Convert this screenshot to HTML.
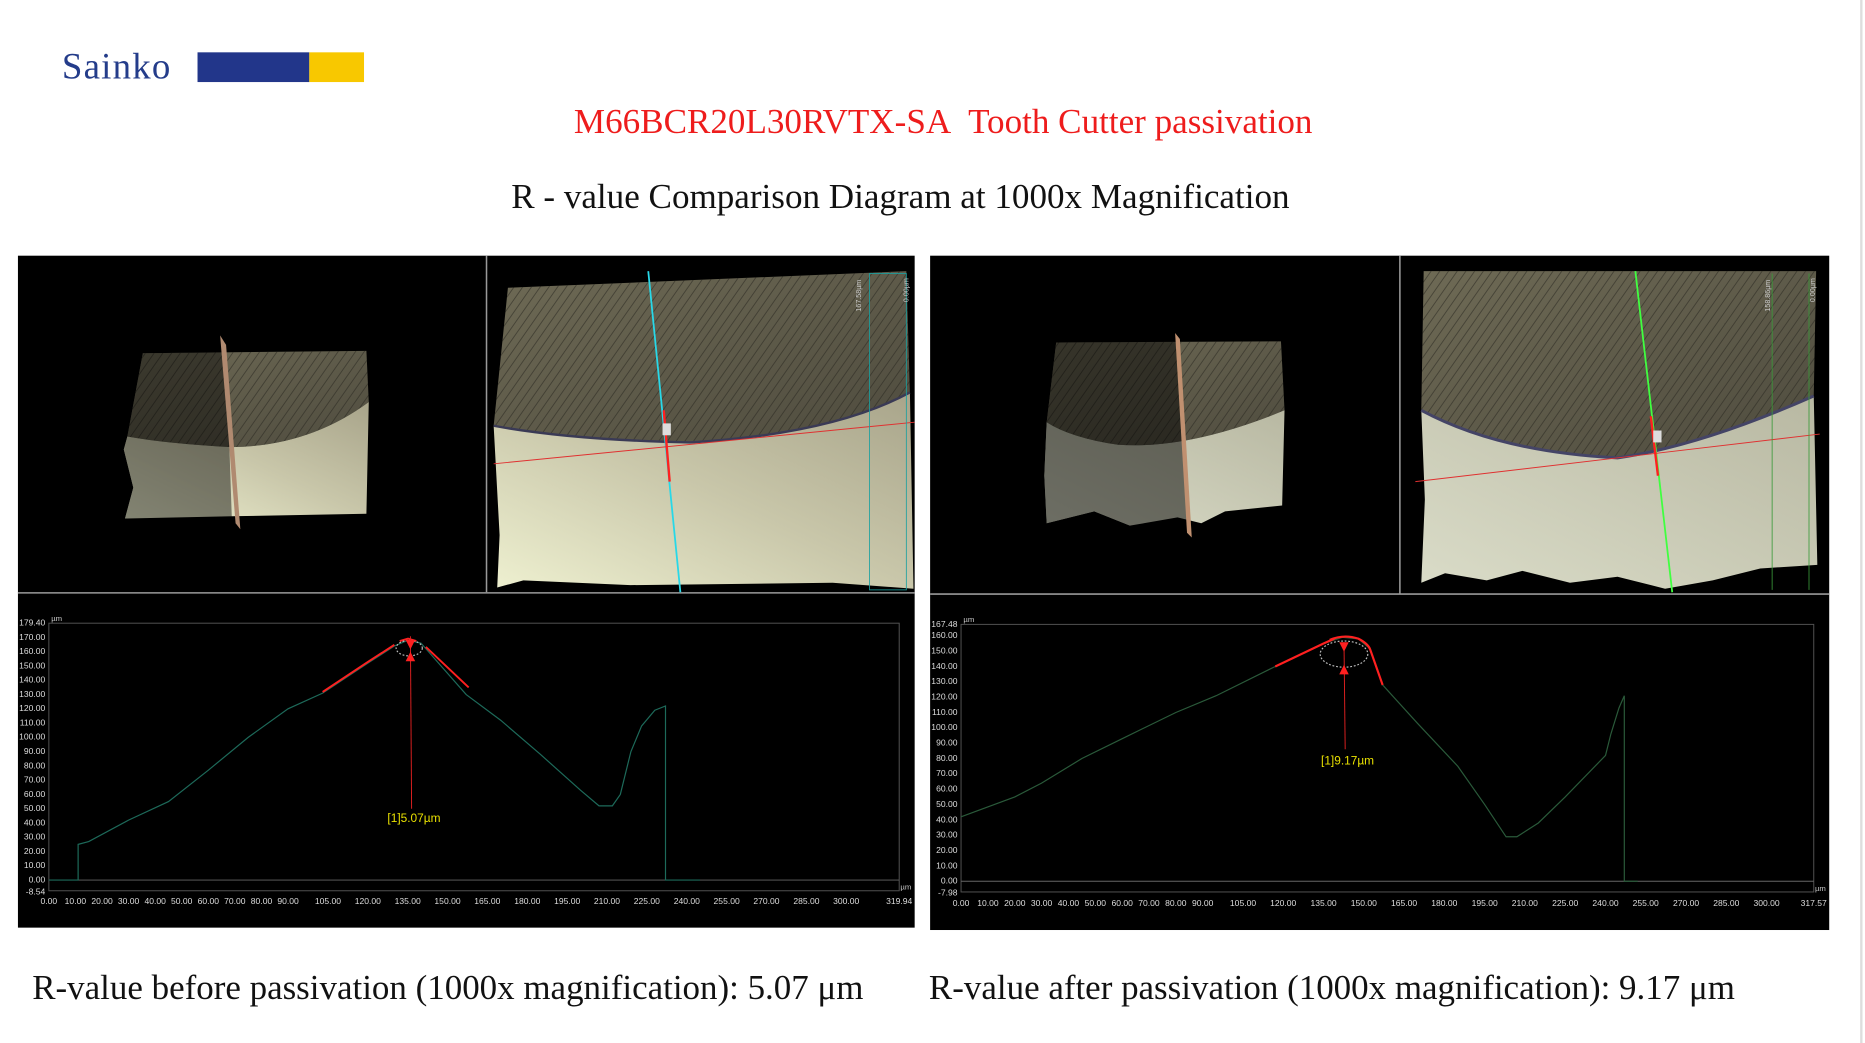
<!DOCTYPE html>
<html><head><meta charset="utf-8"><style>
html,body{margin:0;padding:0;background:#fff;width:1865px;height:1043px;overflow:hidden}
svg{display:block}
.yl{font-family:"Liberation Sans",sans-serif;font-size:7.2px;fill:#ddd;text-anchor:end}
.xl{font-family:"Liberation Sans",sans-serif;font-size:7.2px;fill:#ddd;text-anchor:middle}
</style></head><body>
<svg width="1865" height="1043" viewBox="0 0 1568 877" xmlns="http://www.w3.org/2000/svg">
<defs>
<linearGradient id="dk" x1="0" y1="0" x2="1" y2="1"><stop offset="0" stop-color="#6e6a55"/><stop offset="1" stop-color="#4e4b3e"/></linearGradient>
<linearGradient id="cr" x1="0" y1="1" x2="1" y2="0"><stop offset="0" stop-color="#eef0d0"/><stop offset="0.5" stop-color="#c9c7aa"/><stop offset="1" stop-color="#a8a48a"/></linearGradient>
<linearGradient id="cr2" x1="0" y1="1" x2="1" y2="0"><stop offset="0" stop-color="#dadcc8"/><stop offset="1" stop-color="#b8b8a2"/></linearGradient>
<pattern id="st" width="6" height="6" patternUnits="userSpaceOnUse" patternTransform="rotate(35)"><rect width="6" height="6" fill="none"/><line x1="0" y1="0" x2="0" y2="6" stroke="#2a2820" stroke-width="1.6" opacity="0.55"/></pattern>
</defs>
<!-- header -->
<text x="52" y="66" font-family="Liberation Serif,serif" font-size="31" fill="#243c8a" letter-spacing="1">Sainko</text>
<rect x="166" y="44" width="94" height="25" fill="#22368a"/>
<rect x="260" y="44" width="46" height="25" fill="#f8c800"/>
<text x="793" y="112" text-anchor="middle" font-family="Liberation Serif,serif" font-size="29.5" fill="#ee1c1c">M66BCR20L30RVTX-SA&#160; Tooth Cutter passivation</text>
<text x="757" y="175" text-anchor="middle" font-family="Liberation Serif,serif" font-size="29.5" fill="#111">R - value Comparison Diagram at 1000x Magnification</text>
<line x1="1565" y1="0" x2="1565" y2="877" stroke="#ddd" stroke-width="2"/>

<!-- LEFT PANEL -->
<rect x="15" y="215" width="754" height="565" fill="#000"/>
<line x1="409" y1="215" x2="409" y2="498" stroke="#999" stroke-width="1.3"/>
<line x1="15" y1="498.5" x2="769" y2="498.5" stroke="#999" stroke-width="1.3"/>
<path d="M120,297 L308,295 L310,338 Q260,375 195,376 Q140,373 107,367 Z" fill="url(#dk)"/>
<path d="M120,297 L308,295 L310,338 Q260,375 195,376 Q140,373 107,367 Z" fill="url(#st)"/>
<path d="M107,367 Q140,373 195,376 Q260,375 310,338 L308,432 L200,434 L105,436 L112,410 L104,378 Z" fill="url(#cr)"/>
<path d="M120,297 L190,296 L195,440 L105,436 L112,410 L104,378 L107,367 Z" fill="#000" opacity="0.45"/>
<path d="M185,282 L190,290 L202,445 L198,440 Z" fill="#b08a70"/>
<path d="M427,242 L762,228 L765,330 Q700,365 580,372 Q480,370 415,358 Z" fill="url(#dk)"/>
<path d="M427,242 L762,228 L765,330 Q700,365 580,372 Q480,370 415,358 Z" fill="url(#st)"/>
<path d="M415,358 Q480,370 580,372 Q700,365 765,330 L768,495 L700,490 L530,492 L440,488 L418,494 L420,450 Z" fill="url(#cr)"/>
<path d="M415,358 Q480,370 580,372 Q700,365 765,330" fill="none" stroke="#3a3a55" stroke-width="2"/>
<line x1="545" y1="228" x2="572" y2="498" stroke="#28d8e8" stroke-width="1.5"/>
<line x1="415" y1="390" x2="769" y2="355" stroke="#e03030" stroke-width="0.8"/>
<rect x="731" y="230" width="31" height="266" fill="none" stroke="#1aa0a0" stroke-width="0.7"/>
<line x1="558" y1="345" x2="563" y2="405" stroke="#ff2020" stroke-width="2"/>
<rect x="557" y="356" width="7" height="10" fill="#ddd"/>
<text transform="translate(724,262) rotate(-90)" font-family="Liberation Sans,sans-serif" font-size="6" fill="#ccc">167.58µm</text>
<text transform="translate(764,254) rotate(-90)" font-family="Liberation Sans,sans-serif" font-size="6" fill="#ccc">0.00µm</text>
<!-- left chart -->
<rect x="41" y="524" width="715" height="225" fill="none" stroke="#555" stroke-width="0.8"/>
<line x1="41" y1="740" x2="756" y2="740" stroke="#666" stroke-width="0.8"/>
<text x="43" y="522" font-family="Liberation Sans,sans-serif" font-size="6.5" fill="#ccc">µm</text>
<text x="757" y="748" font-family="Liberation Sans,sans-serif" font-size="6.5" fill="#ccc">µm</text>
<g class="yl"><text x="38" y="526">179.40</text><text x="38" y="538">170.00</text><text x="38" y="550">160.00</text><text x="38" y="562">150.00</text><text x="38" y="574">140.00</text><text x="38" y="586">130.00</text><text x="38" y="598">120.00</text><text x="38" y="610">110.00</text><text x="38" y="622">100.00</text><text x="38" y="634">90.00</text><text x="38" y="646">80.00</text><text x="38" y="658">70.00</text><text x="38" y="670">60.00</text><text x="38" y="682">50.00</text><text x="38" y="694">40.00</text><text x="38" y="706">30.00</text><text x="38" y="718">20.00</text><text x="38" y="730">10.00</text><text x="38" y="742">0.00</text><text x="38" y="752">-8.54</text></g>
<g class="xl"><text x="41" y="760">0.00</text><text x="63.3" y="760">10.00</text><text x="85.7" y="760">20.00</text><text x="108" y="760">30.00</text><text x="130.4" y="760">40.00</text><text x="152.7" y="760">50.00</text><text x="175.1" y="760">60.00</text><text x="197.4" y="760">70.00</text><text x="219.8" y="760">80.00</text><text x="242.1" y="760">90.00</text><text x="275.7" y="760">105.00</text><text x="309.2" y="760">120.00</text><text x="342.7" y="760">135.00</text><text x="376.2" y="760">150.00</text><text x="409.7" y="760">165.00</text><text x="443.3" y="760">180.00</text><text x="476.8" y="760">195.00</text><text x="510.3" y="760">210.00</text><text x="543.8" y="760">225.00</text><text x="577.4" y="760">240.00</text><text x="610.9" y="760">255.00</text><text x="644.4" y="760">270.00</text><text x="678" y="760">285.00</text><text x="711.4" y="760">300.00</text><text x="756" y="760">319.94</text></g>
<polyline fill="none" stroke="#1d6a5a" stroke-width="1" points="41,740 65.6,740 65.6,710 74.5,707.6 108,689.6 141.6,674 175.1,647.6 208.6,620 242.1,596 271.2,582.8 309.2,557.6 331.5,543.2 342.7,538.4 353.9,540.8 391.9,584 420.9,605.6 454.4,634.4 488,664.4 503.6,677.6 514.8,677.6 521.5,668 530.4,632 539.4,610.4 550.5,597.2 559.5,593.6 559.5,740 588.5,740"/>
<polyline fill="none" stroke="#ff2020" stroke-width="1.6" points="271.2,581.8 309.2,556.6 331.5,542.2"/>
<polyline fill="none" stroke="#ff2020" stroke-width="1.6" points="336,539 343,537 350,539"/>
<polyline fill="none" stroke="#ff2020" stroke-width="1.6" points="358,544 394,578"/>
<ellipse cx="344" cy="545" rx="11" ry="6.5" fill="none" stroke="#bbb" stroke-width="1" stroke-dasharray="1.5,1.5"/>
<line x1="345" y1="535" x2="346" y2="680" stroke="#e02020" stroke-width="0.8"/>
<path d="M341,538 L349,538 L345,546 Z M341,556 L349,556 L345,548 Z" fill="#ff2020"/>
<text x="348" y="691" text-anchor="middle" font-family="Liberation Sans,sans-serif" font-size="10" fill="#e8e000">[1]5.07µm</text>

<!-- RIGHT PANEL -->
<rect x="782" y="215" width="756" height="567" fill="#000"/>
<line x1="1177" y1="215" x2="1177" y2="499" stroke="#999" stroke-width="1.3"/>
<line x1="782" y1="499.5" x2="1538" y2="499.5" stroke="#999" stroke-width="1.3"/>
<path d="M888,288 L1077,287 L1080,345 Q1000,378 940,374 Q900,368 880,355 Z" fill="url(#dk)"/>
<path d="M888,288 L1077,287 L1080,345 Q1000,378 940,374 Q900,368 880,355 Z" fill="url(#st)"/>
<path d="M880,355 Q900,368 940,374 Q1000,378 1080,345 L1078,425 L1030,430 L1010,440 L990,435 L950,442 L920,430 L880,440 L878,400 Z" fill="url(#cr2)"/>
<path d="M888,288 L990,287 L1000,450 L950,442 L920,430 L880,440 L878,400 L880,355 Z" fill="#000" opacity="0.5"/>
<path d="M988,280 L992,285 L1002,452 L998,448 Z" fill="#c09070"/>
<path d="M1197,228 L1527,228 L1525,333 Q1430,375 1360,385 Q1260,380 1195,345 Z" fill="url(#dk)"/>
<path d="M1197,228 L1527,228 L1525,333 Q1430,375 1360,385 Q1260,380 1195,345 Z" fill="url(#st)"/>
<path d="M1195,345 Q1260,380 1360,385 Q1430,375 1525,333 L1528,475 L1480,478 L1440,488 L1400,495 L1360,485 L1320,490 L1280,480 L1250,488 L1215,482 L1195,490 L1198,420 Z" fill="url(#cr2)"/>
<path d="M1195,345 Q1260,380 1360,385 Q1430,375 1525,333" fill="none" stroke="#444466" stroke-width="2.5"/>
<line x1="1375" y1="228" x2="1406" y2="498" stroke="#40ff40" stroke-width="1.5"/>
<line x1="1190" y1="405" x2="1530" y2="365" stroke="#e03030" stroke-width="0.8"/>
<line x1="1490" y1="230" x2="1490" y2="496" stroke="#3a9a3a" stroke-width="0.7"/>
<line x1="1521" y1="230" x2="1521" y2="496" stroke="#3a9a3a" stroke-width="0.7"/>
<line x1="1388" y1="350" x2="1394" y2="400" stroke="#ff2020" stroke-width="2"/>
<rect x="1390" y="362" width="7" height="10" fill="#ddd"/>
<text transform="translate(1488,262) rotate(-90)" font-family="Liberation Sans,sans-serif" font-size="6" fill="#ccc">158.86µm</text>
<text transform="translate(1526,254) rotate(-90)" font-family="Liberation Sans,sans-serif" font-size="6" fill="#ccc">0.00µm</text>
<!-- right chart -->
<rect x="808" y="525" width="717" height="225" fill="none" stroke="#555" stroke-width="0.8"/>
<line x1="808" y1="741" x2="1525" y2="741" stroke="#666" stroke-width="0.8"/>
<text x="810" y="523" font-family="Liberation Sans,sans-serif" font-size="6.5" fill="#ccc">µm</text>
<text x="1526" y="749" font-family="Liberation Sans,sans-serif" font-size="6.5" fill="#ccc">µm</text>
<g class="yl"><text x="805" y="527">167.48</text><text x="805" y="536.6">160.00</text><text x="805" y="549.5">150.00</text><text x="805" y="562.4">140.00</text><text x="805" y="575.3">130.00</text><text x="805" y="588.2">120.00</text><text x="805" y="601.1">110.00</text><text x="805" y="614">100.00</text><text x="805" y="626.9">90.00</text><text x="805" y="639.8">80.00</text><text x="805" y="652.7">70.00</text><text x="805" y="665.6">60.00</text><text x="805" y="678.5">50.00</text><text x="805" y="691.4">40.00</text><text x="805" y="704.3">30.00</text><text x="805" y="717.2">20.00</text><text x="805" y="730.1">10.00</text><text x="805" y="743">0.00</text><text x="805" y="753">-7.98</text></g>
<g class="xl"><text x="808" y="762">0.00</text><text x="830.6" y="762">10.00</text><text x="853.2" y="762">20.00</text><text x="875.7" y="762">30.00</text><text x="898.3" y="762">40.00</text><text x="920.9" y="762">50.00</text><text x="943.5" y="762">60.00</text><text x="966" y="762">70.00</text><text x="988.6" y="762">80.00</text><text x="1011.2" y="762">90.00</text><text x="1045.1" y="762">105.00</text><text x="1078.9" y="762">120.00</text><text x="1112.8" y="762">135.00</text><text x="1146.7" y="762">150.00</text><text x="1180.5" y="762">165.00</text><text x="1214.4" y="762">180.00</text><text x="1248.3" y="762">195.00</text><text x="1282.1" y="762">210.00</text><text x="1316" y="762">225.00</text><text x="1349.9" y="762">240.00</text><text x="1383.7" y="762">255.00</text><text x="1417.6" y="762">270.00</text><text x="1451.5" y="762">285.00</text><text x="1485.3" y="762">300.00</text><text x="1525" y="762">317.57</text></g>
<polyline fill="none" stroke="#2a5a3a" stroke-width="1" points="808,686.8 853.2,670.1 875.7,658.5 909.6,637.8 943.5,621.1 988.6,599.1 1022.5,585 1072.2,560.4 1112.8,541.1 1128.6,535.9 1142.2,537.2 1151.2,545 1162.5,575.9 1191.8,608.2 1225.7,644.3 1248.3,676.5 1266.3,703.6 1275.4,703.6 1293.4,692 1316,670.1 1349.9,635.2 1354.4,617.2 1361.2,595.3 1365.7,585 1365.7,741 1377,741"/>
<polyline fill="none" stroke="#ff2020" stroke-width="1.8" points="1072.2,560.4 1112.8,541.1 1122,537"/>
<path d="M1118,538 Q1130,533 1142,537 Q1150,541 1152,546 L1162.5,576" fill="none" stroke="#ff2020" stroke-width="1.8"/>
<ellipse cx="1130" cy="550" rx="20" ry="11" fill="none" stroke="#bbb" stroke-width="1" stroke-dasharray="1.5,1.5"/>
<line x1="1130" y1="540" x2="1131" y2="630" stroke="#e02020" stroke-width="0.8"/>
<path d="M1126,540 L1134,540 L1130,548 Z M1126,567 L1134,567 L1130,559 Z" fill="#ff2020"/>
<text x="1133" y="643" text-anchor="middle" font-family="Liberation Sans,sans-serif" font-size="10" fill="#e8e000">[1]9.17µm</text>

<!-- bottom text -->
<text x="27" y="840" font-family="Liberation Serif,serif" font-size="29.4" fill="#111">R-value before passivation (1000x magnification): 5.07 μm</text>
<text x="781" y="840" font-family="Liberation Serif,serif" font-size="29.4" fill="#111">R-value after passivation (1000x magnification): 9.17 μm</text>
</svg>
</body></html>
